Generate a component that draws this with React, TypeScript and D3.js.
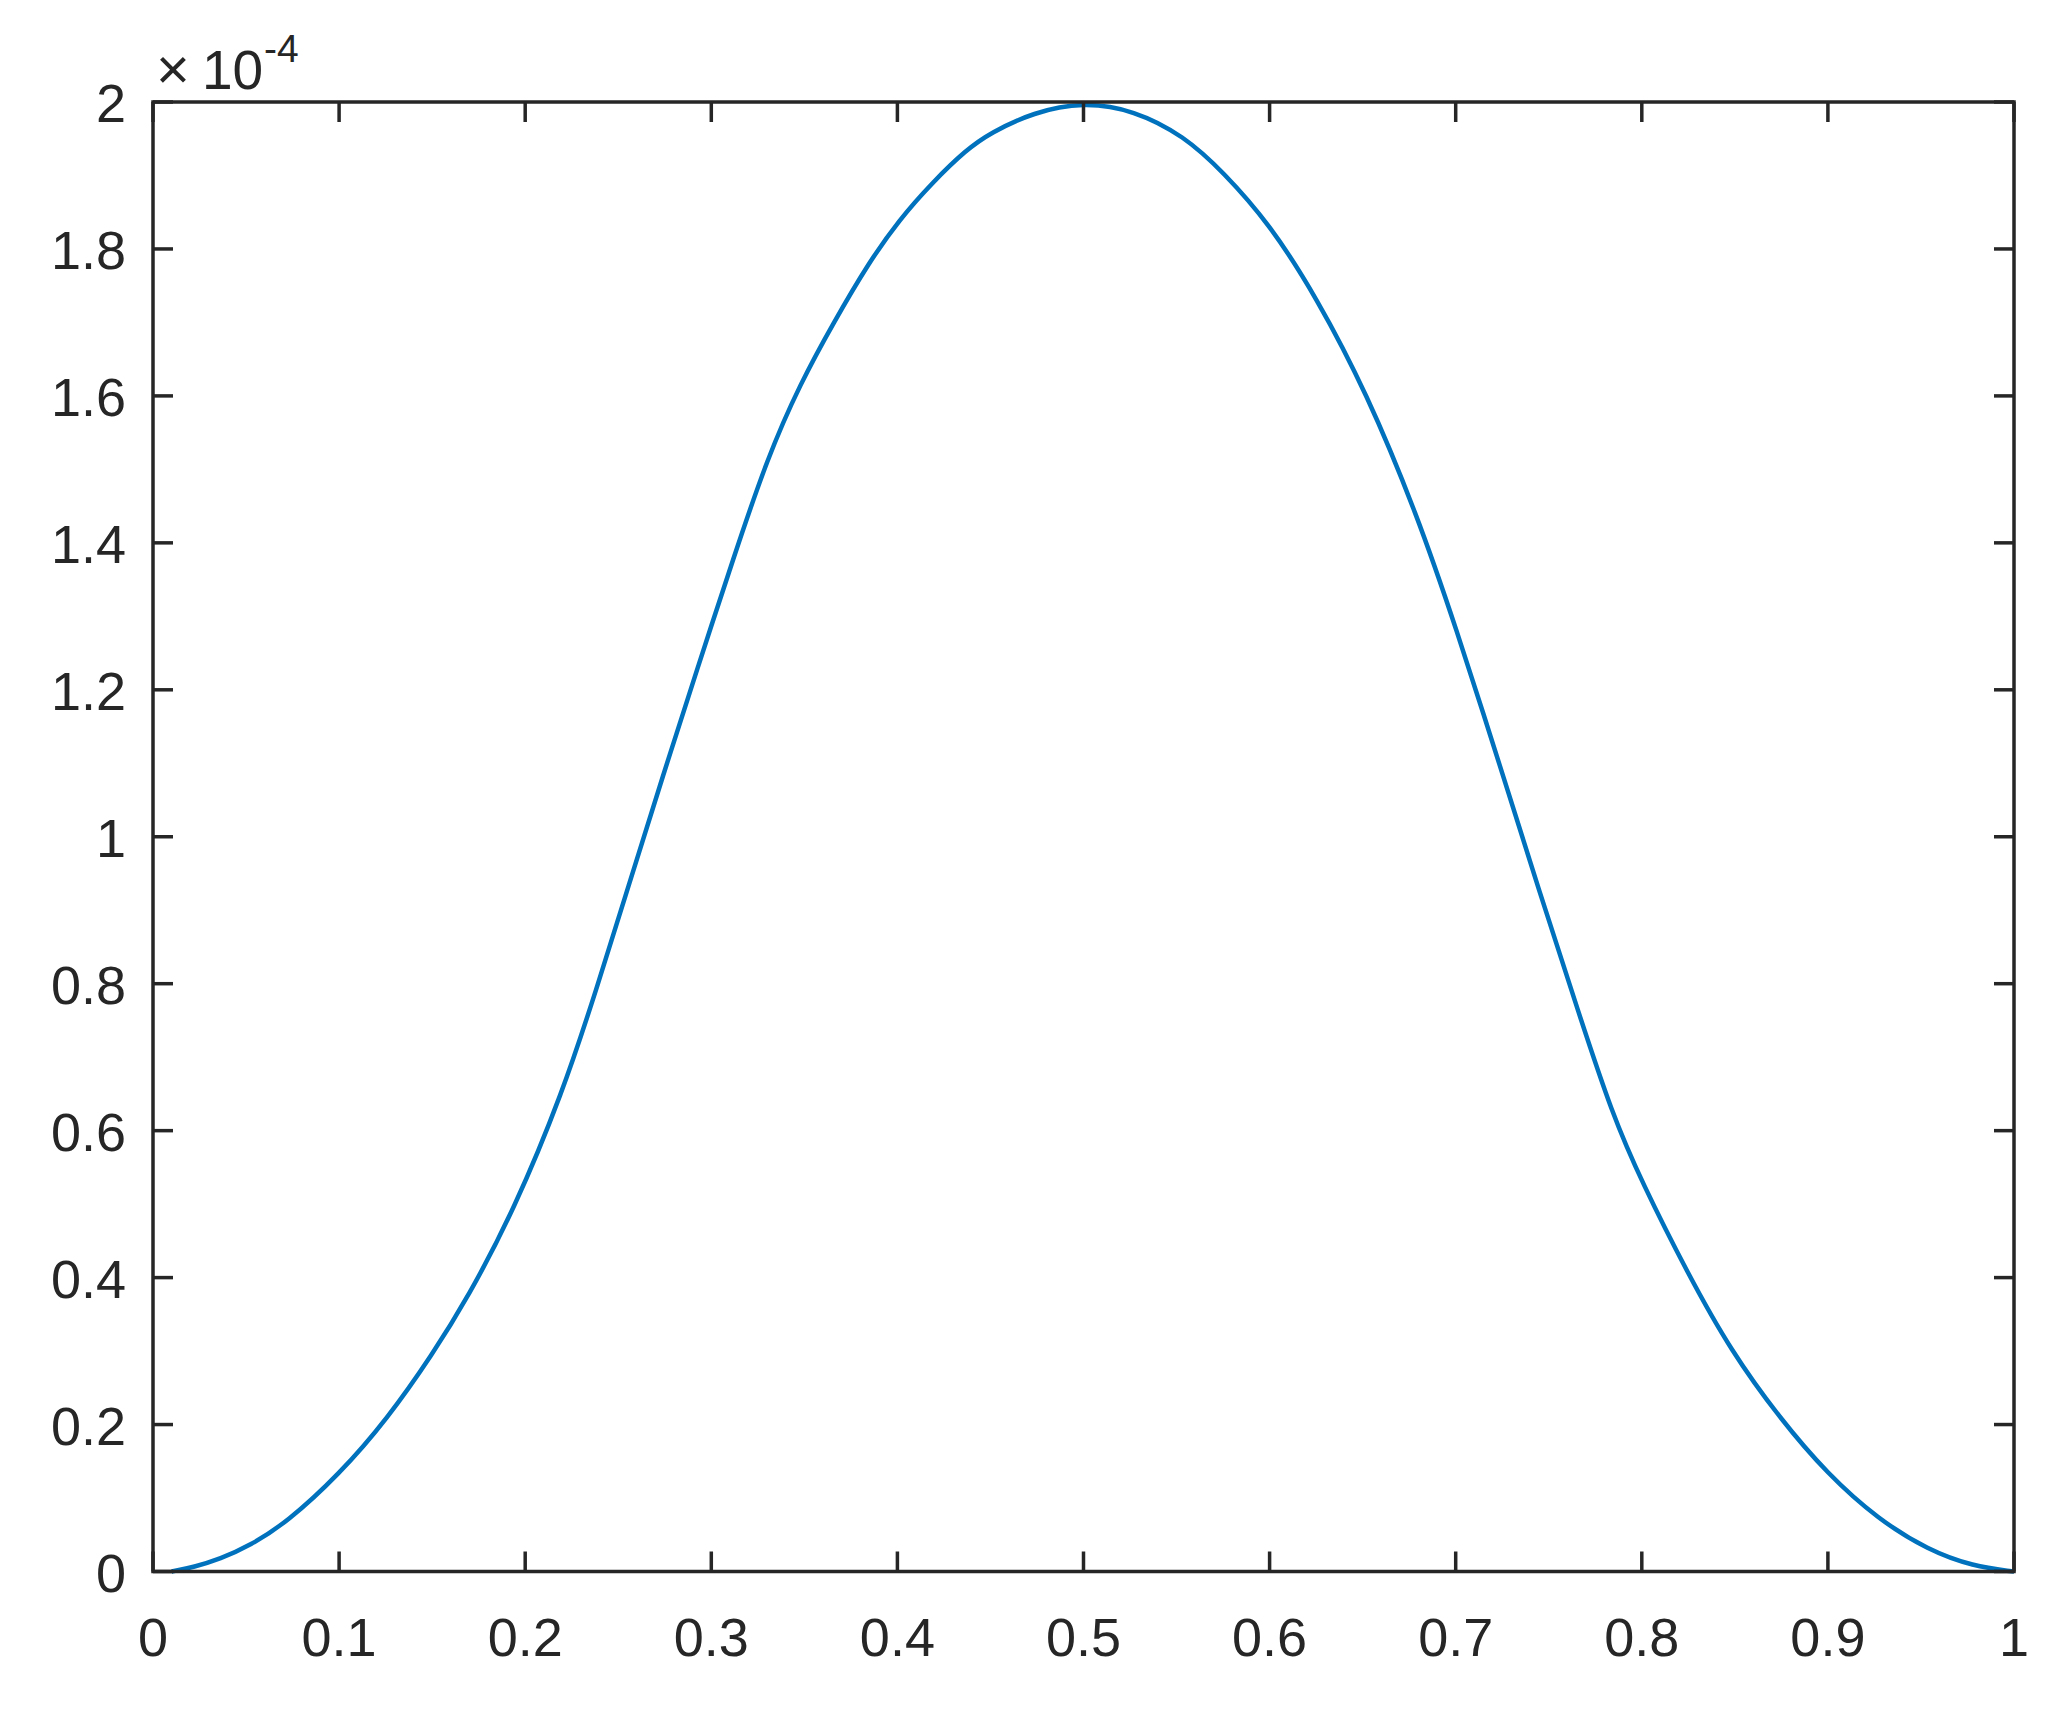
import React from "react";
import * as d3 from "d3";

const width = 2056,
  height = 1711;
const margin = { top: 102, right: 42, bottom: 139.5, left: 153 };

// curve samples (y in units of 1e-4)
const xValues = [
  0.01, 0.022, 0.036, 0.052, 0.072, 0.1, 0.126, 0.15, 0.169, 0.194, 0.22,
  0.238, 0.256, 0.274, 0.292, 0.312, 0.33, 0.348, 0.366, 0.384, 0.401, 0.419,
  0.437, 0.45, 0.473, 0.5, 0.527, 0.554, 0.575, 0.6, 0.625, 0.652, 0.679, 0.7,
  0.724, 0.745, 0.766, 0.784, 0.8, 0.825, 0.848, 0.874, 0.9, 0.927, 0.954,
  0.978, 1.0,
];
const yValues = [
  0, 0.006, 0.017, 0.035, 0.067, 0.132, 0.208, 0.295, 0.372, 0.492, 0.651,
  0.79, 0.937, 1.083, 1.225, 1.38, 1.515, 1.618, 1.701, 1.779, 1.84, 1.891,
  1.935, 1.958, 1.986, 2.0, 1.989, 1.954, 1.905, 1.834, 1.735, 1.605, 1.44,
  1.286, 1.095, 0.925, 0.761, 0.623, 0.53, 0.404, 0.3, 0.209, 0.132, 0.071,
  0.029, 0.007, 0,
];

const xTicks = [0, 0.1, 0.2, 0.3, 0.4, 0.5, 0.6, 0.7, 0.8, 0.9, 1];
const xTickLabels = ["0", "0.1", "0.2", "0.3", "0.4", "0.5", "0.6", "0.7", "0.8", "0.9", "1"];
const yTicks = [0, 0.2, 0.4, 0.6, 0.8, 1, 1.2, 1.4, 1.6, 1.8, 2];
const yTickLabels = ["0", "0.2", "0.4", "0.6", "0.8", "1", "1.2", "1.4", "1.6", "1.8", "2"];
const exponent = "-4";

const axisColor = "#262626";
const lineColor = "#0072BD";
const font = "'Liberation Sans', Arial, Helvetica, sans-serif";
const tickLen = 20;

export default function App() {
  const x = d3
    .scaleLinear()
    .domain([0, 1])
    .range([margin.left, width - margin.right]);
  const y = d3
    .scaleLinear()
    .domain([0, 2])
    .range([height - margin.bottom, margin.top]);

  const points = xValues.map((xv, i) => [xv, yValues[i]] as [number, number]);
  // basis spline smooths out small reading errors between samples
  const line = d3
    .line<[number, number]>()
    .x((d) => x(d[0]))
    .y((d) => y(d[1]))
    .curve(d3.curveBasis);

  const x0 = x(0),
    x1 = x(1),
    y0 = y(0),
    y1 = y(2);

  return (
    <div style={{ position: "absolute", left: 0, top: 0 }}>
      <svg width={width} height={height} style={{ display: "block", background: "#fff" }}>
        <path d={line(points) || ""} fill="none" stroke={lineColor} strokeWidth={4.5} />

        {/* ticks on all four sides, pointing inward */}
        {xTicks.map((t) => (
          <g key={"xt" + t} stroke={axisColor} strokeWidth={3.5}>
            <line x1={x(t)} x2={x(t)} y1={y0} y2={y0 - tickLen} />
            <line x1={x(t)} x2={x(t)} y1={y1} y2={y1 + tickLen} />
          </g>
        ))}
        {yTicks.map((t) => (
          <g key={"yt" + t} stroke={axisColor} strokeWidth={3.5}>
            <line x1={x0} x2={x0 + tickLen} y1={y(t)} y2={y(t)} />
            <line x1={x1} x2={x1 - tickLen} y1={y(t)} y2={y(t)} />
          </g>
        ))}

        <rect
          x={x0}
          y={y1}
          width={x1 - x0}
          height={y0 - y1}
          fill="none"
          stroke={axisColor}
          strokeWidth={3.5}
        />

        <g fontFamily={font} fontSize={54} fill={axisColor}>
          {xTicks.map((t, i) => (
            <text key={"xl" + t} x={x(t)} y={y0 + 84} textAnchor="middle">
              {xTickLabels[i]}
            </text>
          ))}
          {yTicks.map((t, i) => (
            <text key={"yl" + t} x={x0 - 27} y={y(t) + 20} textAnchor="end">
              {yTickLabels[i]}
            </text>
          ))}
          <text x={156} y={89} fontSize={58}>×</text>
          <text x={202} y={89} fontSize={55}>10</text>
          <text x={264} y={62} fontSize={39}>
            {exponent}
          </text>
        </g>
      </svg>
    </div>
  );
}
